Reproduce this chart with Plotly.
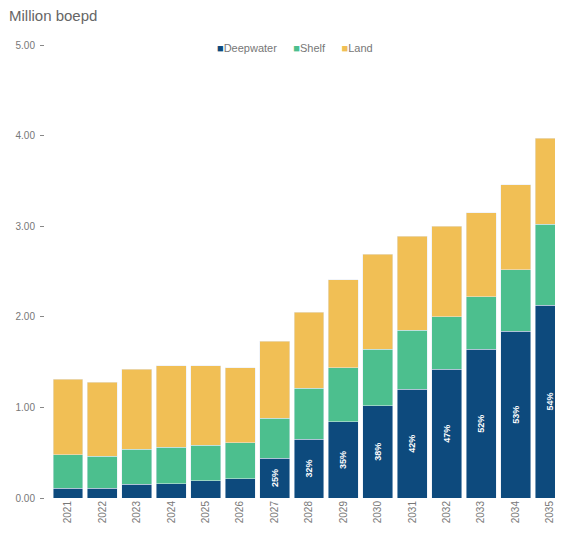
import plotly.graph_objects as go

years = ["2021", "2022", "2023", "2024", "2025", "2026", "2027", "2028",
         "2029", "2030", "2031", "2032", "2033", "2034", "2035"]
deepwater = [0.11, 0.11, 0.15, 0.16, 0.19, 0.21, 0.44, 0.65, 0.84, 1.02, 1.20, 1.42, 1.64, 1.84, 2.13]
shelf = [0.37, 0.35, 0.39, 0.40, 0.39, 0.40, 0.44, 0.56, 0.60, 0.62, 0.65, 0.58, 0.58, 0.68, 0.89]
land = [0.83, 0.82, 0.88, 0.90, 0.88, 0.83, 0.85, 0.84, 0.97, 1.05, 1.04, 1.00, 0.93, 0.94, 0.95]
deep_share = ["", "", "", "", "", "", "25%", "32%", "35%", "38%", "42%", "47%", "52%", "53%", "54%"]
series_names = ["Deepwater", "Shelf", "Land"]

C_DEEP = "#0d4a7d"
C_SHELF = "#4cbf8e"
C_LAND = "#f1bf55"
colors = [C_DEEP, C_SHELF, C_LAND]

fig = go.Figure()
fig.add_trace(go.Bar(x=years, y=deepwater, name=series_names[0], marker_color=C_DEEP,
                     text=deep_share, textposition="inside", insidetextanchor="middle",
                     textangle=-90,
                     textfont=dict(color="white", size=9, family="Arial, Liberation Sans", weight="bold"),
                     constraintext="none"))
fig.add_trace(go.Bar(x=years, y=shelf, name=series_names[1], marker_color=C_SHELF))
fig.add_trace(go.Bar(x=years, y=land, name=series_names[2], marker_color=C_LAND))

gap = "\u2002\u2002\u2002"
legend_text = gap.join(
    f"<span style='color:{c}'>■</span>{n}" for n, c in zip(series_names, colors)
)

fig.update_layout(
    barmode="stack",
    bargap=0.13,
    width=547, height=523,
    margin=dict(l=37, r=0, t=37, b=33, autoexpand=False),
    paper_bgcolor="white", plot_bgcolor="white",
    font=dict(family="Arial, Liberation Sans, sans-serif", color="#777777", size=10),
    showlegend=False,
    uniformtext=dict(minsize=8, mode="show"),
    annotations=[
        dict(text="Million boepd", xref="paper", yref="paper",
             x=-0.075, y=1.066, xanchor="left", yanchor="middle",
             showarrow=False, font=dict(size=15, color="#666666")),
        dict(text=legend_text, xref="paper", yref="paper",
             x=0.49, y=0.993, xanchor="center", yanchor="middle",
             showarrow=False, font=dict(size=11, color="#777777")),
    ],
)
fig.update_xaxes(type="category", range=[-0.668, 14.145], tickangle=-90,
                 showgrid=False, showline=False, ticks="", automargin=False,
                 tickfont=dict(size=10, color="#777777"))
fig.update_yaxes(range=[0, 5], tickvals=[0, 1, 2, 3, 4, 5], tickformat=".2f",
                 showgrid=False, zeroline=False, showline=False, automargin=False,
                 ticks="outside", ticklen=4, tickcolor="#888888", ticklabelstandoff=3,
                 tickfont=dict(size=10, color="#777777"))

fig.write_html("out.html")
